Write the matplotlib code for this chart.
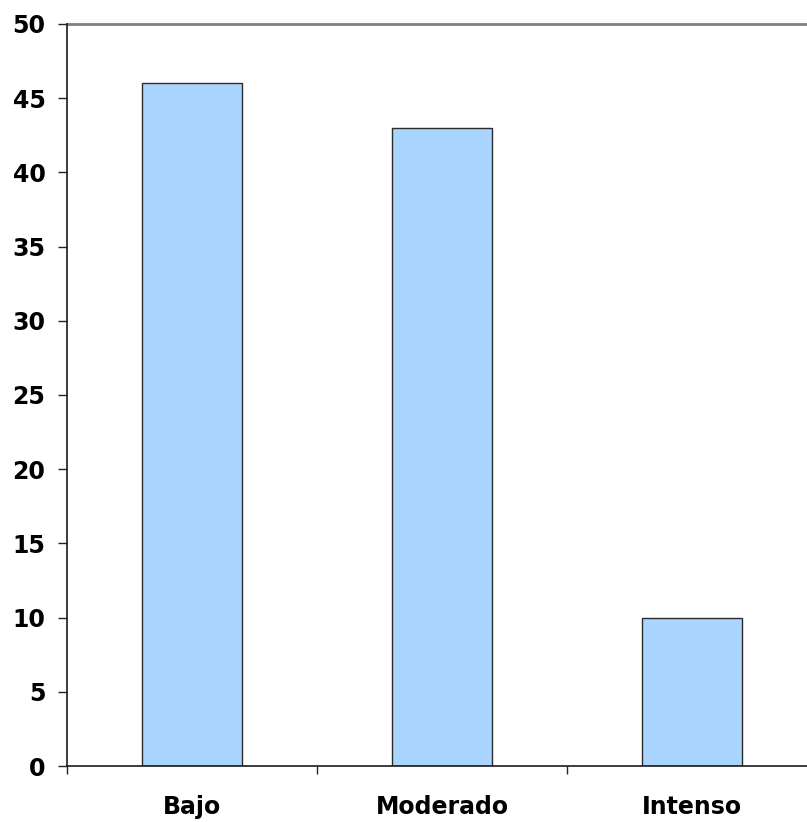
import matplotlib
matplotlib.use("Agg")
import matplotlib.pyplot as plt
import numpy as np

categories = ["Bajo", "Moderado", "Intenso"]
values = [46, 43, 10]
y_ticks = [0, 5, 10, 15, 20, 25, 30, 35, 40, 45, 50]

W, H = 807, 822
fig = plt.figure(figsize=(W / 100, H / 100), dpi=100)
fig.patch.set_facecolor("white")

# plot area: left edge at 67 px, bottom at 766 px, top at 24 px, 250 px per category
left, bottom, top = 67, 766, 24
cat_w = 250
ax = fig.add_axes([left / W, (H - bottom) / H, 3 * cat_w / W, (bottom - top) / H])

x = np.arange(len(categories))
ax.bar(x, values, width=0.4, color="#AAD5FE", edgecolor="#2b2b2b",
       linewidth=1.0, zorder=3)

ax.set_xlim(-0.5, len(categories) - 0.5)
ax.set_ylim(0, 50)

ax.axhline(50, color="#808080", linewidth=2, zorder=2, clip_on=False)

ax.set_yticks(y_ticks)
ax.set_yticklabels([str(t) for t in y_ticks])
ax.tick_params(axis="y", direction="out", length=6.5, width=1, color="#222222",
               pad=9, labelsize=17)

# category boundaries carry tick marks; labels sit at category centres
ax.set_xticks(np.arange(-0.5, len(categories), 1.0))
ax.set_xticklabels([])
ax.set_xticks(x, minor=True)
ax.set_xticklabels(categories, minor=True)
ax.tick_params(axis="x", which="major", direction="out", length=6, width=1,
               color="#222222")
ax.tick_params(axis="x", which="minor", length=0, pad=21, labelsize=17)

for lbl in ax.get_yticklabels() + ax.get_xticklabels(minor=True):
    lbl.set_fontweight("bold")
    lbl.set_color("black")

for side in ("top", "right"):
    ax.spines[side].set_visible(False)
for side in ("left", "bottom"):
    ax.spines[side].set_color("#1a1a1a")
    ax.spines[side].set_linewidth(1.2)
    ax.spines[side].set_zorder(4)

fig.savefig("out.png", dpi=100, facecolor="white")
